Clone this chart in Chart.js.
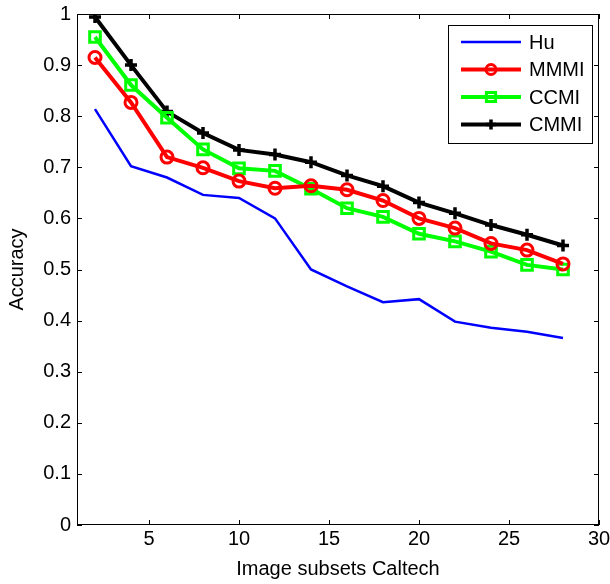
<!DOCTYPE html>
<html>
<head>
<meta charset="utf-8">
<script src="https://cdn.jsdelivr.net/npm/chart.js@4/dist/chart.umd.min.js"></script>
<style>
  html, body { margin: 0; padding: 0; background: #fff; }
  #wrap { width: 610px; height: 584px; }
</style>
</head>
<body>
<div id="wrap"><canvas id="chartCanvas" width="610" height="584"></canvas></div>
<script>
const xs = [2, 4, 6, 8, 10, 12, 14, 16, 18, 20, 22, 24, 26, 28];
const hu   = [0.814, 0.702, 0.680, 0.646, 0.640, 0.600, 0.500, 0.467, 0.436, 0.442, 0.398, 0.386, 0.378, 0.366];
const mmmi = [0.915, 0.827, 0.720, 0.699, 0.673, 0.659, 0.664, 0.656, 0.635, 0.600, 0.581, 0.551, 0.538, 0.511];
const ccmi = [0.955, 0.861, 0.797, 0.735, 0.698, 0.693, 0.658, 0.620, 0.603, 0.570, 0.555, 0.535, 0.509, 0.500];
const cmmi = [0.994, 0.900, 0.809, 0.767, 0.734, 0.725, 0.710, 0.684, 0.663, 0.631, 0.610, 0.587, 0.568, 0.547];
const xTicks = [5, 10, 15, 20, 25, 30];

const FONT = "'Liberation Sans', Arial, sans-serif";

function pts(ys) {
  return xs.map((x, i) => ({ x: x, y: ys[i] }));
}

// box, inward ticks and legend like the matlab figure
const frame = {
  id: "frame",
  afterDraw(chart) {
    const ctx = chart.ctx;
    const a = chart.chartArea;
    const sx = chart.scales.x, sy = chart.scales.y;
    ctx.save();
    ctx.strokeStyle = "#000";
    ctx.lineWidth = 1;
    ctx.strokeRect(a.left + 0.5, a.top + 0.5, a.right - a.left - 1, a.bottom - a.top - 1);
    ctx.beginPath();
    xTicks.forEach(v => {
      const px = Math.round(sx.getPixelForValue(v)) + 0.5;
      ctx.moveTo(px, a.bottom); ctx.lineTo(px, a.bottom - 5);
      ctx.moveTo(px, a.top); ctx.lineTo(px, a.top + 5);
    });
    for (let v = 0; v <= 1.0001; v += 0.1) {
      const py = Math.round(sy.getPixelForValue(v)) + 0.5;
      ctx.moveTo(a.left, py); ctx.lineTo(a.left + 5, py);
      ctx.moveTo(a.right, py); ctx.lineTo(a.right - 5, py);
    }
    ctx.stroke();

    // legend
    const lx = 448, ly = 25, lw = 144, lh = 118;
    ctx.fillStyle = "#fff";
    ctx.fillRect(lx, ly, lw, lh);
    ctx.strokeRect(lx + 0.5, ly + 0.5, lw, lh);
    ctx.font = "20px " + FONT;
    ctx.textBaseline = "middle";
    chart.data.datasets.forEach((ds, i) => {
      const y = ly + 17 + i * 27.5;
      ctx.strokeStyle = ds.borderColor;
      ctx.lineWidth = ds.borderWidth;
      ctx.beginPath();
      ctx.moveTo(461, y); ctx.lineTo(521, y);
      ctx.stroke();
      if (ds.pointRadius > 0) {
        ctx.fillStyle = ds.pointBackgroundColor;
        ctx.strokeStyle = ds.pointBorderColor;
        ctx.lineWidth = ds.pointBorderWidth;
        Chart.helpers.drawPoint(ctx, {
          pointStyle: ds.pointStyle,
          radius: ds.pointRadius - 1,
          borderWidth: ds.pointBorderWidth
        }, 491, y);
      }
      ctx.fillStyle = "#000";
      ctx.fillText(ds.label, 529, y + 1);
    });
    ctx.restore();
  }
};

const ctx = document.getElementById("chartCanvas").getContext("2d");
new Chart(ctx, {
  type: "line",
  data: {
    datasets: [
      { label: "Hu", data: pts(hu), borderColor: "#0000ff", borderWidth: 2.5,
        pointRadius: 0, tension: 0 },
      { label: "MMMI", data: pts(mmmi), borderColor: "#ff0000", borderWidth: 4,
        pointStyle: "circle", pointRadius: 6, pointBorderWidth: 3,
        pointBackgroundColor: "rgba(0,0,0,0)", pointBorderColor: "#ff0000", tension: 0 },
      { label: "CCMI", data: pts(ccmi), borderColor: "#00ff00", borderWidth: 4,
        pointStyle: "rect", pointRadius: 7.5, pointBorderWidth: 3,
        pointBackgroundColor: "rgba(0,0,0,0)", pointBorderColor: "#00ff00", tension: 0 },
      { label: "CMMI", data: pts(cmmi), borderColor: "#000000", borderWidth: 4,
        pointStyle: "cross", pointRadius: 6, pointBorderWidth: 3.5,
        pointBackgroundColor: "#000", pointBorderColor: "#000", tension: 0 }
    ]
  },
  options: {
    responsive: false,
    animation: false,
    layout: { padding: { top: 14, right: 11, left: 0, bottom: 0 } },
    plugins: { legend: { display: false }, tooltip: { enabled: false } },
    scales: {
      x: {
        type: "linear", min: 1, max: 30,
        afterBuildTicks: s => { s.ticks = xTicks.map(v => ({ value: v })); },
        afterFit: s => { s.height = 59; s.paddingLeft = 0; s.paddingRight = 0; },
        grid: { display: false, drawTicks: false },
        border: { display: false },
        ticks: { color: "#000", font: { family: FONT, size: 20 }, padding: 2, maxRotation: 0 },
        title: { display: true, text: "Image subsets Caltech", color: "#000",
                 font: { family: FONT, size: 20 }, padding: { top: 0, bottom: 2.5 } }
      },
      y: {
        min: 0, max: 1,
        afterFit: s => { s.width = 77; s.paddingTop = 0; s.paddingBottom = 0; },
        grid: { display: false, drawTicks: false },
        border: { display: false },
        ticks: { stepSize: 0.1, color: "#000", font: { family: FONT, size: 20 }, padding: 6,
                 callback: v => Math.round(v * 10) / 10 },
        title: { display: true, text: "Accuracy", color: "#000",
                 font: { family: FONT, size: 20 }, padding: { top: 5, bottom: 0 } }
      }
    }
  },
  plugins: [frame]
});
</script>
</body>
</html>
